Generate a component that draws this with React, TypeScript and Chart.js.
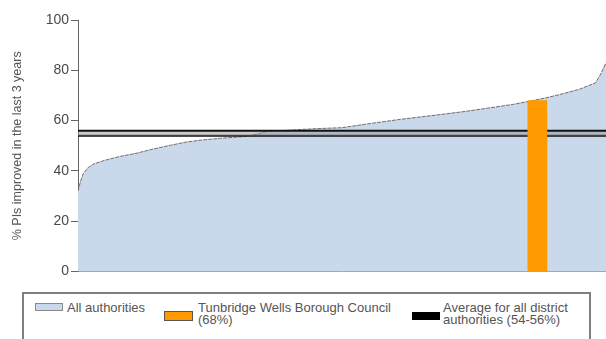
import React, { useEffect, useRef } from "react";
import { Chart, registerables } from "chart.js";

Chart.register(...registerables);

// Authorities ranked (0..200) and their % of PIs improved in the last 3 years
const authorityRanks = [0, 1, 2, 4, 6, 10, 16, 22, 28, 35, 41, 47, 54, 62, 66, 72, 80, 90, 100, 109, 122, 134, 147, 160, 165, 171, 177, 183, 190, 196, 198, 200];
const authorityValues = [32, 36, 39, 41.5, 42.8, 44.2, 45.8, 47, 48.6, 50.2, 51.5, 52.3, 53, 53.6, 54.2, 55.8, 56.2, 56.8, 57.2, 58.6, 60.5, 62, 63.7, 65.7, 66.5, 67.7, 69, 70.5, 72.5, 75, 78.5, 83];

// Tunbridge Wells Borough Council
const councilRank = 174;
const councilValue = 68;

// Average band for all district authorities
const averageLow = 54;
const averageHigh = 56;
const rankMin = 0;
const rankMax = 200;

const yTicks = [0, 20, 40, 60, 80, 100];

const FONT = "'Liberation Sans', Arial, sans-serif";

export default function App() {
  const canvasRef = useRef<HTMLCanvasElement | null>(null);

  useEffect(() => {
    document.body.style.margin = "0";
    const canvas = canvasRef.current;
    if (!canvas) return;
    const areaData = authorityRanks.map((r, i) => ({ x: r, y: authorityValues[i] }));
    const chart = new Chart(canvas, {
      type: "line",
      data: {
        datasets: [
          {
            type: "bar",
            label: "Tunbridge Wells Borough Council (68%)",
            data: [{ x: councilRank, y: councilValue }],
            backgroundColor: "#ff9900",
            borderWidth: 0,
            barThickness: 19,
            order: 0,
          } as any,
          {
            label: "avg-high",
            data: [
              { x: rankMin, y: averageHigh },
              { x: rankMax, y: averageHigh },
            ],
            borderColor: "#111111",
            borderWidth: 2,
            pointRadius: 0,
            fill: "+1",
            backgroundColor: "rgba(150,150,150,0.5)",
            order: 1,
          },
          {
            label: "avg-low",
            data: [
              { x: rankMin, y: averageLow },
              { x: rankMax, y: averageLow },
            ],
            borderColor: "#111111",
            borderWidth: 2,
            pointRadius: 0,
            fill: false,
            order: 2,
          },
          {
            label: "All authorities",
            data: areaData,
            borderColor: "#6e6e6e",
            borderWidth: 1,
            borderDash: [4, 1],
            pointRadius: 0,
            tension: 0,
            fill: "origin",
            backgroundColor: "#c9d8eb",
            order: 3,
          },
        ],
      },
      options: {
        animation: false,
        responsive: false,
        devicePixelRatio: 1,
        layout: { padding: { top: 20, right: 0, bottom: 0, left: 0 } },
        plugins: {
          legend: { display: false },
          tooltip: { enabled: false },
        },
        scales: {
          x: {
            type: "linear",
            min: rankMin,
            max: rankMax,
            offset: false,
            ticks: { display: false },
            grid: { display: false },
            border: { display: true, color: "#9aa4b0", width: 1 },
          },
          y: {
            min: 0,
            max: 100,
            afterBuildTicks: (s: any) => {
              s.ticks = yTicks.map((v) => ({ value: v }));
            },
            afterFit: (s: any) => {
              s.width = 78;
            },
            ticks: {
              color: "#4a4a4a",
              font: { family: FONT, size: 14 },
              padding: 2,
            },
            grid: {
              drawOnChartArea: false,
              drawTicks: true,
              tickLength: 7,
              color: "#666666",
            },
            border: { display: true, color: "#666666", width: 1 },
            title: {
              display: true,
              text: "% PIs improved in the last 3 years",
              color: "#555555",
              font: { family: FONT, size: 12.5 },
              padding: { top: 10, bottom: 0 },
            },
          },
        },
      },
    });
    return () => chart.destroy();
  }, []);

  const textStyle: React.CSSProperties = {
    fontFamily: FONT,
    fontSize: 13,
    color: "#555555",
    lineHeight: "12px",
    position: "absolute",
    whiteSpace: "nowrap",
  };

  return (
    <div style={{ position: "absolute", left: 0, top: 0, width: 606, height: 339, overflow: "hidden", background: "#fff" }}>
      <canvas ref={canvasRef} width={606} height={282} style={{ position: "absolute", left: 0, top: 0, width: 606, height: 282 }} />
      <div
        style={{
          position: "absolute",
          left: 22,
          top: 292,
          width: 569,
          height: 60,
          border: "2px solid #7f7f7f",
          boxSizing: "border-box",
        }}
      >
        <div style={{ position: "absolute", left: 11, top: 9, width: 28, height: 8, background: "#c9d8eb", border: "1px solid #8a8a8a", boxSizing: "border-box" }} />
        <div style={{ ...textStyle, left: 43, top: 8 }}>All authorities</div>
        <div style={{ position: "absolute", left: 140, top: 17, width: 29, height: 10, background: "#ff9900", border: "1px solid #555", boxSizing: "border-box" }} />
        <div style={{ ...textStyle, left: 174, top: 8 }}>
          Tunbridge Wells Borough Council
          <br />
          (68%)
        </div>
        <div style={{ position: "absolute", left: 388, top: 18, width: 28, height: 8, background: "#000" }} />
        <div style={{ ...textStyle, left: 419, top: 8 }}>
          Average for all district
          <br />
          authorities (54-56%)
        </div>
      </div>
    </div>
  );
}
